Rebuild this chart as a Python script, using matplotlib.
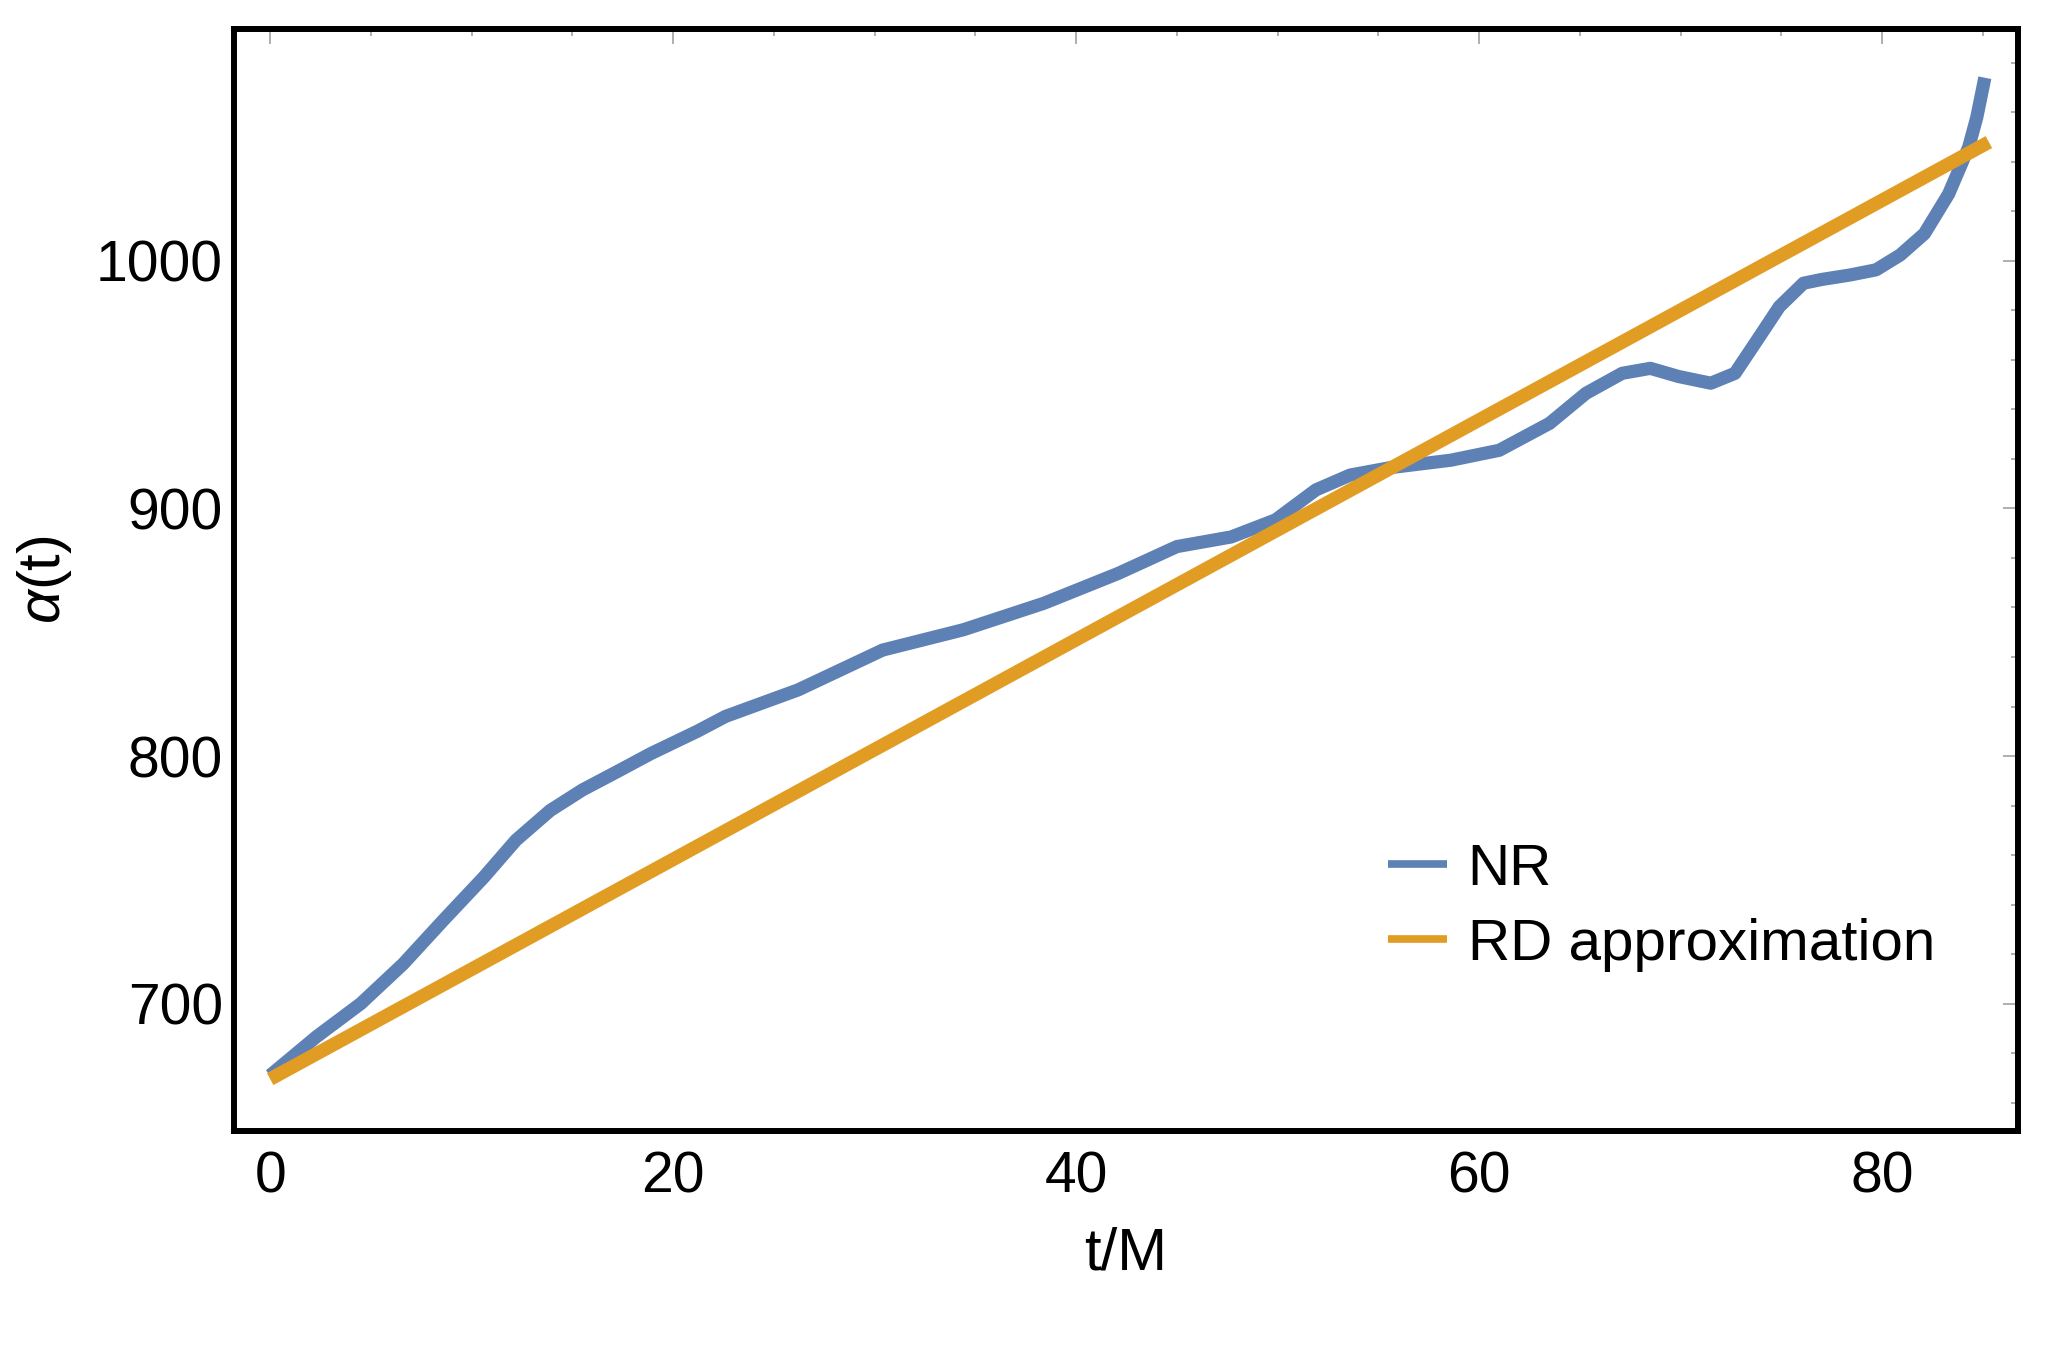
import numpy as np
import matplotlib
matplotlib.use('Agg')
import matplotlib.pyplot as plt
from matplotlib.ticker import MultipleLocator

plt.rcParams['font.family'] = ['Liberation Sans', 'DejaVu Sans']
plt.rcParams['mathtext.fontset'] = 'custom'
plt.rcParams['mathtext.it'] = 'Liberation Sans:italic'
plt.rcParams['mathtext.rm'] = 'Liberation Sans'

# NR curve
nr_t = [0, 2.3, 4.5, 6.6, 8.6, 10.6, 12.2, 13.9, 15.5, 17.2, 18.9, 21.2, 22.6,
        26.2, 30.4, 34.4, 38.4, 42.1, 45.0, 47.7, 49.9, 51.9, 53.6, 55.6,
        58.6, 61.0, 63.5, 65.3, 67.1, 68.5, 69.9, 71.5, 72.7, 73.8, 74.9,
        76.1, 77.0, 78.4, 79.7, 80.9, 82.1, 83.3, 84.3, 84.7, 85.1]
nr_alpha = [671, 686.6, 700, 716, 733.7, 751, 766, 778, 786.3, 793.6, 801, 810, 816,
            826.7, 842.8, 851, 861.7, 873.8, 884.6, 888.5, 895.4, 907.5, 913.5, 916.5,
            919.5, 923.5, 934.4, 946.5, 954.6, 956.6, 953.3, 950.6, 954.6, 968, 981.5,
            991, 992.5, 994.3, 996.4, 1002.4, 1011, 1027, 1046, 1058, 1074]

# RD approximation (straight line)
rd_t = [0, 85.3]
rd_alpha = [669.5, 1048]

blue = '#5E81B5'
orange = '#E19C24'

fig = plt.figure(figsize=(20.48, 13.66), dpi=100)
ax = fig.add_axes([0.1143, 0.172, 0.9854 - 0.1143, 0.9788 - 0.172])

ax.plot(nr_t, nr_alpha, color=blue, lw=9.5, label='NR', solid_capstyle='butt',
        solid_joinstyle='round')
ax.plot(rd_t, rd_alpha, color=orange, lw=9.8, label='RD approximation',
        solid_capstyle='butt')

ax.set_xlim(-1.79, 86.75)
ax.set_ylim(648.5, 1093.7)

ax.xaxis.set_major_locator(MultipleLocator(20))
ax.xaxis.set_minor_locator(MultipleLocator(5))
ax.yaxis.set_major_locator(MultipleLocator(100))
ax.yaxis.set_minor_locator(MultipleLocator(20))

ax.tick_params(which='both', direction='in', top=True, right=True,
               bottom=False, left=False, labelbottom=True, labelleft=True,
               color='#999999', width=1.1, labelsize=41)
ax.tick_params(which='major', length=11)
ax.tick_params(which='minor', length=5)
ax.tick_params(axis='x', pad=14)
ax.tick_params(axis='y', pad=8)

for sp in ax.spines.values():
    sp.set_linewidth(4.3)
    sp.set_color('black')

ax.set_xlabel('t/M', fontsize=43, labelpad=16)
ax.set_ylabel(r'$\alpha$(t)', fontsize=43, labelpad=16)

leg = ax.legend(loc='center left', bbox_to_anchor=(0.647, 0.203), frameon=False,
                fontsize=42, handlelength=1.0, handletextpad=0.36, labelspacing=0.36,
                borderpad=0, borderaxespad=0)
for h in leg.get_lines():
    h.set_linewidth(5.5)

fig.savefig('out.png', dpi=100)
